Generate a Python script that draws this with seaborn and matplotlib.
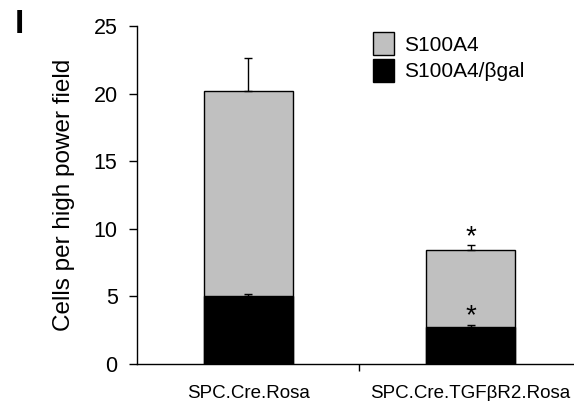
import matplotlib
matplotlib.use("Agg")
import matplotlib.pyplot as plt
import matplotlib.patches as mpatches
import pandas as pd
import numpy as np
import seaborn as sns

sns.set_theme(style="white")
plt.rcParams['font.family'] = ['Liberation Sans', 'DejaVu Sans']
plt.rcParams['text.color'] = 'black'
plt.rcParams['axes.labelcolor'] = 'black'
plt.rcParams['xtick.color'] = 'black'
plt.rcParams['ytick.color'] = 'black'

# %% data
groups = ['SPC.Cre.Rosa', 'SPC.Cre.TGFβR2.Rosa']
s100a4_total = [20.2, 8.4]
s100a4_total_err = [2.4, 0.4]
s100a4_bgal = [5.0, 2.75]
s100a4_bgal_err = [0.15, 0.15]

df = pd.DataFrame({'group': groups, 'total': s100a4_total, 'bgal': s100a4_bgal})

# %% plot
fig = plt.figure(figsize=(5.74, 4.01), dpi=100)
ax = fig.add_axes([0.2387, 0.0923, 0.7613, 0.8428])

sns.barplot(x='group', y='total', data=df, color='#c0c0c0', width=0.4,
            edgecolor='black', linewidth=1, saturation=1, ax=ax)
sns.barplot(x='group', y='bgal', data=df, color='black', width=0.4,
            edgecolor='black', linewidth=1, saturation=1, ax=ax)

xpos = np.arange(len(groups))
ax.errorbar(xpos, s100a4_total, yerr=[np.zeros(2), s100a4_total_err], fmt='none',
            ecolor='black', elinewidth=1, capsize=3, capthick=1)
ax.errorbar(xpos, s100a4_bgal, yerr=[np.zeros(2), s100a4_bgal_err], fmt='none',
            ecolor='black', elinewidth=1, capsize=3, capthick=1)

# significance marks
ax.text(1, 9.4, '*', ha='center', va='center', fontsize=20, color='black')
ax.text(1, 3.5, '*', ha='center', va='center', fontsize=20, color='black')

ax.set_xlim(-0.5, 1.465)
ax.set_ylim(0, 25)
ax.set_yticks([0, 5, 10, 15, 20, 25])
ax.set_xlabel('')
ax.set_ylabel('Cells per high power field', fontsize=17.5, labelpad=13)
ax.tick_params(axis='y', labelsize=15.5, direction='out', length=6, width=1, left=True, pad=8)
ax.tick_params(axis='x', labelsize=13.5, length=0, pad=15)

# category boundary tick like the original
ax.set_xticks([0.5], minor=True)
ax.tick_params(axis='x', which='minor', direction='out', length=5, width=1, bottom=True)

for side in ['top', 'right']:
    ax.spines[side].set_visible(False)
for side in ['left', 'bottom']:
    ax.spines[side].set_color('black')
    ax.spines[side].set_linewidth(1)

handles = [mpatches.Patch(facecolor='#c0c0c0', edgecolor='black', label='S100A4'),
           mpatches.Patch(facecolor='black', edgecolor='black', label='S100A4/βgal')]
ax.legend(handles=handles, loc='upper left', bbox_to_anchor=(0.54, 0.982), frameon=False,
          fontsize=15, handlelength=1.0, handleheight=1.35, handletextpad=0.5,
          labelspacing=0.15, borderpad=0, borderaxespad=0)

fig.text(15 / 574, 0.978, 'I', fontsize=24, fontweight='bold', va='top', ha='left')

plt.savefig('out.png', dpi=100)
